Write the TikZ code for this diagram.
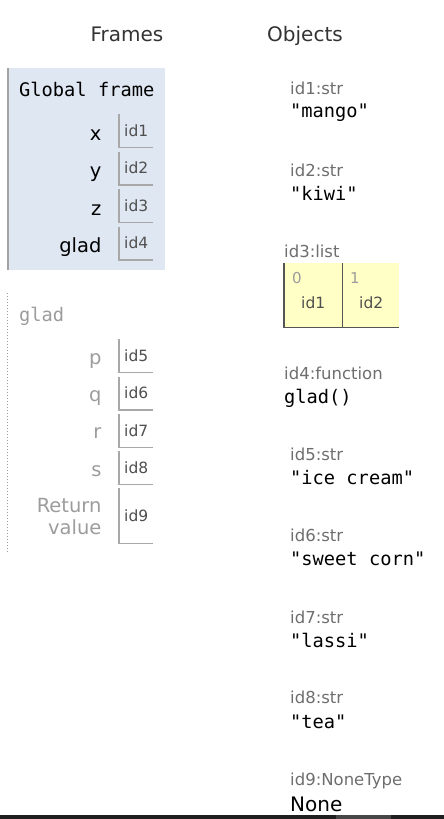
\documentclass[tikz,border=0pt]{standalone}
\usepackage{fontspec}
\setmainfont{DejaVu Sans}
\setmonofont{DejaVu Sans Mono}
\definecolor{framebg}{HTML}{DFE7F2}
\definecolor{frameedge}{HTML}{A3A3A3}
\definecolor{boxedge}{HTML}{A8A8A8}
\definecolor{idgray}{HTML}{4F4F4F}
\definecolor{typegray}{HTML}{6E6E6E}
\definecolor{lightgray}{HTML}{9C9C9C}
\definecolor{listfill}{HTML}{FFFFC6}
\definecolor{listedge}{HTML}{555555}
\definecolor{headtext}{HTML}{333333}
\begin{document}
\begin{tikzpicture}[x=1pt,y=-1pt,
  head/.style={anchor=base,text=headtext,font=\fontsize{20}{24}\selectfont},
  varname/.style={anchor=base east,font=\fontsize{19.5}{22}\selectfont},
  valbox/.style={anchor=north west,minimum width=34,minimum height=33,inner sep=0,
    text=idgray,font=\fontsize{15.5}{18}\selectfont},
  boxline/.style={draw=boxedge,line width=1.2},
  typelabel/.style={anchor=base west,inner sep=0,text=typegray,font=\fontsize{16.5}{19}\selectfont},
  monoval/.style={anchor=base west,inner sep=0,font=\ttfamily\fontsize{18.7}{22}\selectfont}]
\useasboundingbox (0,0) rectangle (444,819);
%\draw [help lines,step=50] (0,0) grid (444,819);
\node [head] (frames) at (127,41) {Frames};
\node [head] (objects) at (305,41) {Objects};

% global frame
\fill [framebg] (7,68) rectangle (165,270);
\draw [frameedge,line width=2] (8,68)--(8,270);
\node [monoval] (global) at (19,96) {Global frame};
\node [varname] (nx) at (105,140) {x};
\node [valbox] (gx) at (119,114) {id1};
\node [varname] (ny) at (105,177.5) {y};
\node [valbox] (gy) at (119,151.5) {id2};
\node [varname] (nz) at (105,215) {z};
\node [valbox] (gz) at (119,189) {id3};
\node [varname] (nglad) at (105,252.5) {glad};
\node [valbox] (gglad) at (119,226.5) {id4};
\draw [boxline] (gx.north west) |- (gx.south east);
\draw [boxline] (gy.north west) |- (gy.south east);
\draw [boxline] (gz.north west) |- (gz.south east);
\draw [boxline] (gglad.north west) |- (gglad.south east);

% glad frame
\draw [lightgray,line width=1,dotted] (7.5,293)--(7.5,552);
\node [monoval,text=lightgray] (gladframe) at (19,321) {glad};
\node [varname,text=lightgray] (np) at (105,364) {p};
\node [valbox] (fp) at (119,339) {id5};
\node [varname,text=lightgray] (nq) at (105,401) {q};
\node [valbox] (fq) at (119,376.5) {id6};
\node [varname,text=lightgray] (nr) at (105,438.5) {r};
\node [valbox] (fr) at (119,414) {id7};
\node [varname,text=lightgray] (ns) at (105,476) {s};
\node [valbox] (fs) at (119,451) {id8};
\node [varname,text=lightgray,align=right] (nret) at (105,534)
  {Return\\value};
\node [valbox,minimum height=55] (fret) at (119,488) {id9};
\draw [boxline] (fp.north west) |- (fp.south east);
\draw [boxline] (fq.north west) |- (fq.south east);
\draw [boxline] (fr.north west) |- (fr.south east);
\draw [boxline] (fs.north west) |- (fs.south east);
\draw [boxline] (fret.north west) |- (fret.south east);

% objects
\node [typelabel] (t1) at (290,94) {id1:str};
\node [monoval] (o1) at (290,117) {"mango"};
\node [typelabel] (t2) at (290,176) {id2:str};
\node [monoval] (o2) at (290,200) {"kiwi"};
\node [typelabel] (t3) at (284,257) {id3:list};
\node [anchor=north west,fill=listfill,minimum width=58,minimum height=64,inner sep=0] (cell0) at (284,263) {};
\node [anchor=north west,fill=listfill,minimum width=57,minimum height=64,inner sep=0] (cell1) at (342,263) {};
\draw [listedge,line width=1.2] (cell0.north west) |- (cell1.south east);
\draw [listedge,line width=1.2] (cell0.north east)--(cell0.south east);
\node [typelabel,text=lightgray,font=\fontsize{15}{18}\selectfont] (i0) at (292,283) {0};
\node [typelabel,text=idgray,font=\fontsize{15.5}{18}\selectfont] (e0) at (301,308) {id1};
\node [typelabel,text=lightgray,font=\fontsize{15}{18}\selectfont] (i1) at (350,283) {1};
\node [typelabel,text=idgray,font=\fontsize{15.5}{18}\selectfont] (e1) at (359,308) {id2};
\node [typelabel] (t4) at (284,379) {id4:function};
\node [monoval] (o4) at (284,403) {glad()};
\node [typelabel] (t5) at (290,460) {id5:str};
\node [monoval] (o5) at (290,484) {"ice cream"};
\node [typelabel] (t6) at (290,541) {id6:str};
\node [monoval] (o6) at (290,565) {"sweet corn"};
\node [typelabel] (t7) at (290,623) {id7:str};
\node [monoval] (o7) at (290,647) {"lassi"};
\node [typelabel] (t8) at (290,703) {id8:str};
\node [monoval] (o8) at (290,728) {"tea"};
\node [typelabel] (t9) at (290,785) {id9:NoneType};
\node [anchor=base west,inner sep=0,font=\fontsize{20}{24}\selectfont] (o9) at (290,811) {None};

% bar along the bottom edge
\fill [black!88] (0,815) rectangle (336,819);
\fill [black!72] (336,815) rectangle (391,819);
\fill [black!88] (391,815) rectangle (444,819);
\end{tikzpicture}
\end{document}
